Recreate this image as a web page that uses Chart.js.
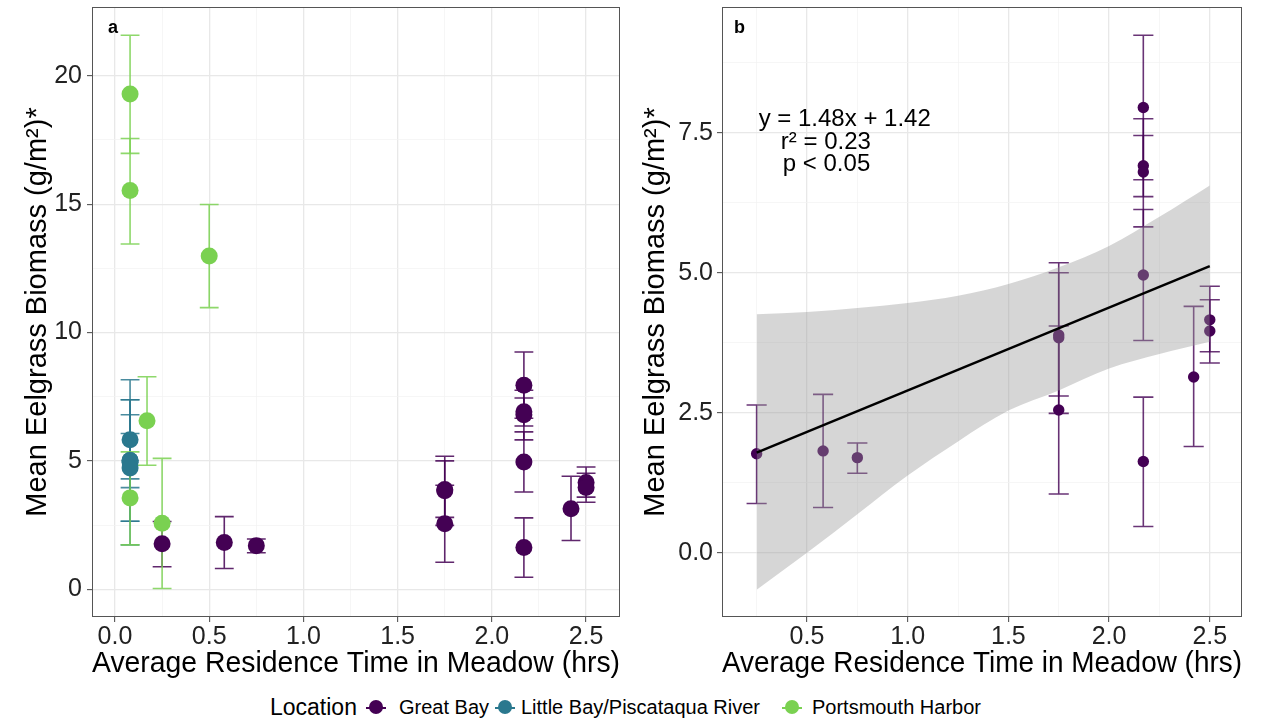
<!DOCTYPE html>
<html>
<head>
<meta charset="utf-8">
<script src="https://cdn.jsdelivr.net/npm/chart.js@4.4.1/dist/chart.umd.min.js"></script>
<style>
  html, body { margin: 0; padding: 0; background: #fff; }
  body { width: 1262px; height: 719px; position: relative; overflow: hidden; font-family: 'Liberation Sans', Arial, sans-serif; }
  #panelA { position: absolute; left: 0; top: 0; }
  #panelB { position: absolute; left: 626px; top: 0; }
  #legend { position: absolute; left: 0; top: 696px; width: 1262px; height: 23px; color: #000; }
  #legend span { position: absolute; top: 0; line-height: 23px; white-space: nowrap; }
  #legend .ltitle { font-size: 23px; }
  #legend .lab { font-size: 20px; }
  #legend .key { width: 20px; height: 23px; }
  #legend .key::before { content: ''; position: absolute; left: 0; right: 0; top: 11px; height: 2px; background: var(--c); }
  #legend .key::after { content: ''; position: absolute; left: 3px; top: 4px; width: 14px; height: 14px; border-radius: 50%; background: var(--c); }
</style>
</head>
<body>
<canvas id="panelA" width="626" height="690"></canvas>
<canvas id="panelB" width="636" height="690"></canvas>
<div id="legend">
  <span class="ltitle" style="left:270px">Location</span>
  <span class="key" style="left:366px; --c:#440154"></span>
  <span class="lab" style="left:399px">Great Bay</span>
  <span class="key" style="left:495px; --c:#2a788e"></span>
  <span class="lab" style="left:521px">Little Bay/Piscataqua River</span>
  <span class="key" style="left:782px; --c:#7ad151"></span>
  <span class="lab" style="left:812px">Portsmouth Harbor</span>
</div>
<script>
// Great Bay (both panels): residence time, mean biomass, error bar ends
const gbX  = [0.25, 0.58, 0.75, 1.75, 1.75, 1.75, 2.17, 2.17, 2.17, 2.17, 2.17, 2.42, 2.50, 2.50];
const gbY  = [1.77, 1.82, 1.70, 3.89, 3.84, 2.55, 7.95, 6.91, 6.80, 4.96, 1.63, 3.14, 4.16, 3.96];
const gbLo = [0.88, 0.81, 1.42, 2.80, 2.49, 1.05, 6.66, 6.36, 5.82, 3.79, 0.47, 1.90, 3.59, 3.39];
const gbHi = [2.64, 2.83, 1.96, 5.00, 5.18, 4.05, 9.24, 7.45, 7.75, 6.13, 2.78, 4.40, 4.76, 4.52];

// Little Bay/Piscataqua River
const lbX  = [0.08, 0.08, 0.08, 0.08, 0.08];
const lbY  = [5.82, 4.95, 5.02, 5.02, 4.72];
const lbLo = [4.30, 1.73, 2.65, 3.96, 2.65];
const lbHi = [7.38, 8.16, 7.38, 6.07, 6.80];

// Portsmouth Harbor
const phX  = [0.08, 0.08, 0.50, 0.17, 0.08, 0.25];
const phY  = [19.29, 15.53, 12.98, 6.56, 3.56, 2.57];
const phLo = [16.98, 13.45, 10.97, 4.83, 1.73, 0.03];
const phHi = [21.58, 17.56, 14.99, 8.28, 5.35, 5.10];

// panel b fit and 95% band
const fitX = [0.25, 2.50];
const fitY = [1.79, 5.12];
const ciX  = [0.25, 0.50, 0.75, 1.00, 1.25, 1.50, 1.75, 2.00, 2.25, 2.50];
const ciHi = [4.26, 4.30, 4.37, 4.46, 4.59, 4.80, 5.10, 5.48, 6.00, 6.56];
const ciLo = [-0.66, 0.00, 0.69, 1.38, 1.99, 2.54, 2.90, 3.29, 3.55, 3.77];

// axis ticks (labelled) and grid lines
const aXTicks = [0, 0.5, 1, 1.5, 2, 2.5];
const aXGrid  = [0, 0.25, 0.5, 0.75, 1, 1.25, 1.5, 1.75, 2, 2.25, 2.5];
const aYTicks = [0, 5, 10, 15, 20];
const aYGrid  = [0, 2.5, 5, 7.5, 10, 12.5, 15, 17.5, 20];
const bXTicks = [0.5, 1, 1.5, 2, 2.5];
const bXGrid  = [0.25, 0.5, 0.75, 1, 1.25, 1.5, 1.75, 2, 2.25, 2.5];
const bYTicks = [0, 2.5, 5, 7.5];
const bYGrid  = [0, 1.25, 2.5, 3.75, 5, 6.25, 7.5, 8.75];

const eqnLines = ['y = 1.48x + 1.42', 'r\u00B2 = 0.23', 'p < 0.05'];

const GB = '#440154', LB = '#2a788e', PH = '#7ad151';
const FONT = "'Liberation Sans', Arial, sans-serif";
const yTitle = 'Mean Eelgrass Biomass (g/m\u00B2)*';
const xTitle = 'Average Residence Time in Meadow (hrs)';

const pts = (xs, ys) => xs.map((x, i) => ({ x: x, y: ys[i] }));

function errorBars(sets, capWidth) {
    return {
        id: 'errorBars',
        beforeDatasetsDraw(chart) {
            const { ctx, chartArea: a, scales: { x, y } } = chart;
            ctx.save();
            ctx.beginPath();
            ctx.rect(a.left, a.top, a.width, a.height);
            ctx.clip();
            ctx.lineWidth = 1.6;
            sets.forEach(s => {
                ctx.strokeStyle = s.color;
                s.x.forEach((xv, i) => {
                    const px = x.getPixelForValue(xv);
                    const l = x.getPixelForValue(xv - capWidth / 2);
                    const r = x.getPixelForValue(xv + capWidth / 2);
                    const top = y.getPixelForValue(s.hi[i]);
                    const bot = y.getPixelForValue(s.lo[i]);
                    ctx.beginPath();
                    ctx.moveTo(px, top); ctx.lineTo(px, bot);
                    ctx.moveTo(l, top); ctx.lineTo(r, top);
                    ctx.moveTo(l, bot); ctx.lineTo(r, bot);
                    ctx.stroke();
                });
            });
            ctx.restore();
        }
    };
}

function frame(tag, dx) {
    return {
        id: 'frame',
        afterDraw(chart) {
            const { ctx, chartArea: a } = chart;
            ctx.save();
            ctx.strokeStyle = '#555';
            ctx.lineWidth = 1;
            ctx.strokeRect(a.left + 0.5, a.top + 0.5, a.width - 1, a.height - 1);
            ctx.fillStyle = '#000';
            ctx.font = 'bold 18px ' + FONT;
            ctx.textBaseline = 'middle';
            ctx.fillText(tag, a.left + dx, a.top + 21);
            ctx.restore();
        }
    };
}

const equation = {
    id: 'equation',
    afterDatasetsDraw(chart) {
        const { ctx, scales: { x, y } } = chart;
        const pos = [[0.26, 7.73], [0.37, 7.32], [0.38, 6.94]];
        ctx.save();
        ctx.fillStyle = '#000';
        ctx.font = '24px ' + FONT;
        ctx.textBaseline = 'middle';
        eqnLines.forEach((t, i) => ctx.fillText(t, x.getPixelForValue(pos[i][0]), y.getPixelForValue(pos[i][1])));
        ctx.restore();
    }
};

function axis(opts) {
    const major = v => opts.ticks.includes(v);
    return {
        type: 'linear',
        min: opts.min,
        max: opts.max,
        afterBuildTicks: s => { s.ticks = opts.grid.map(v => ({ value: v })); },
        afterFit: s => {
            if (opts.width) s.width = opts.width;
            if (opts.height) s.height = opts.height;
            // no extra room for half tick labels at the ends
            s.paddingTop = 0; s.paddingBottom = 0; s.paddingLeft = 0; s.paddingRight = 0;
        },
        ticks: {
            autoSkip: false,
            maxRotation: 0,
            padding: opts.pad,
            color: '#222',
            font: { family: FONT, size: 25, lineHeight: 1 },
            callback: v => major(v) ? opts.fmt(v) : ''
        },
        grid: {
            color: c => major(c.tick.value) ? '#e8e8e8' : '#f2f2f2',
            lineWidth: c => major(c.tick.value) ? 1.3 : 0.7,
            tickLength: 5,
            tickWidth: 1,
            tickColor: c => major(c.tick.value) ? '#444' : 'rgba(0,0,0,0)'
        },
        border: { display: false },
        title: {
            display: true,
            text: opts.title,
            color: '#000',
            font: { family: FONT, size: 29, lineHeight: 1 },
            padding: opts.titlePad
        }
    };
}

Chart.defaults.animation = false;
Chart.defaults.events = [];
Chart.defaults.plugins.legend.display = false;
Chart.defaults.plugins.tooltip.enabled = false;

new Chart(document.getElementById('panelA'), {
    type: 'scatter',
    data: {
        datasets: [
            { label: 'Portsmouth Harbor', data: pts(phX, phY), backgroundColor: PH, pointRadius: 8.5, borderWidth: 0, order: 1 },
            { label: 'Little Bay/Piscataqua River', data: pts(lbX, lbY), backgroundColor: LB, pointRadius: 8.5, borderWidth: 0, order: 2 },
            { label: 'Great Bay', data: pts(gbX, gbY), backgroundColor: GB, pointRadius: 8.5, borderWidth: 0, order: 3 }
        ]
    },
    options: {
        responsive: false,
        layout: { autoPadding: false, padding: { left: 0, right: 6, top: 7, bottom: 0 } },
        scales: {
            x: axis({ min: -0.122, max: 2.68, ticks: aXTicks, grid: aXGrid, fmt: v => v.toFixed(1), height: 73, pad: 3, title: xTitle, titlePad: { top: 0, bottom: 12 } }),
            y: axis({ min: -1.08, max: 22.68, ticks: aYTicks, grid: aYGrid, fmt: v => String(v), width: 92, pad: 5, title: yTitle, titlePad: { top: 23, bottom: 0 } })
        }
    },
    plugins: [
        errorBars([
            { x: gbX, lo: gbLo, hi: gbHi, color: 'rgba(68,1,84,0.85)' },
            { x: lbX, lo: lbLo, hi: lbHi, color: 'rgba(42,120,142,0.85)' },
            { x: phX, lo: phLo, hi: phHi, color: 'rgba(122,209,81,0.85)' }
        ], 0.1),
        frame('a', 16)
    ]
});

new Chart(document.getElementById('panelB'), {
    type: 'scatter',
    data: {
        datasets: [
            { type: 'line', label: 'fit', data: pts(fitX, fitY), borderColor: '#000', borderWidth: 2.5, pointRadius: 0, fill: false, order: 1 },
            { type: 'line', label: 'ci upper', data: pts(ciX, ciHi), borderColor: 'rgba(0,0,0,0)', borderWidth: 0, pointRadius: 0,
              cubicInterpolationMode: 'monotone', fill: '+1', backgroundColor: 'rgba(153,153,153,0.4)', order: 2 },
            { type: 'line', label: 'ci lower', data: pts(ciX, ciLo), borderColor: 'rgba(0,0,0,0)', borderWidth: 0, pointRadius: 0,
              cubicInterpolationMode: 'monotone', fill: false, order: 2 },
            { label: 'Great Bay', data: pts(gbX, gbY), backgroundColor: GB, pointRadius: 5.7, borderWidth: 0, order: 3 }
        ]
    },
    options: {
        responsive: false,
        layout: { autoPadding: false, padding: { left: 0, right: 20, top: 7, bottom: 0 } },
        scales: {
            x: axis({ min: 0.078, max: 2.66, ticks: bXTicks, grid: bXGrid, fmt: v => v.toFixed(1), height: 73, pad: 3, title: xTitle, titlePad: { top: 0, bottom: 12 } }),
            y: axis({ min: -1.145, max: 9.745, ticks: bYTicks, grid: bYGrid, fmt: v => v.toFixed(1), width: 96, pad: 4, title: yTitle, titlePad: { top: 15, bottom: 0 } })
        }
    },
    plugins: [
        errorBars([{ x: gbX, lo: gbLo, hi: gbHi, color: 'rgba(68,1,84,0.8)' }], 0.1),
        equation,
        frame('b', 12)
    ]
});
</script>
</body>
</html>
